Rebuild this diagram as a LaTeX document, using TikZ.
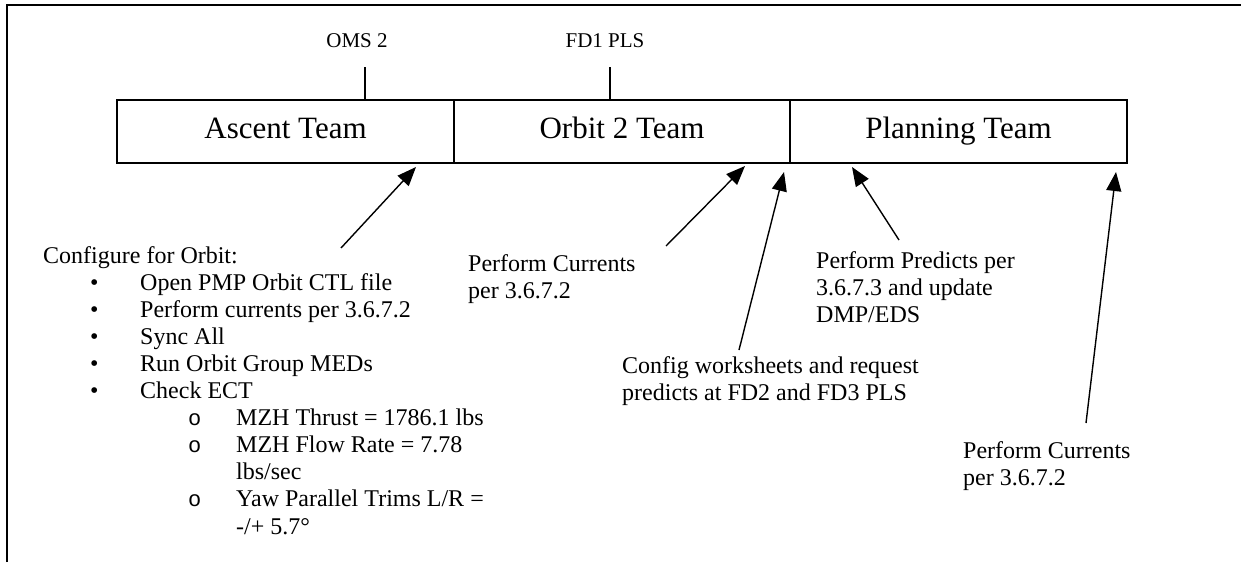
\documentclass[tikz,border=0pt]{standalone}
\usepackage{fontspec}
\setmainfont{Liberation Serif}
\newfontfamily\monofnt{Liberation Mono}
\usetikzlibrary{arrows.meta}

\tikzset{
  team/.style={draw, line width=1.5pt, minimum width=337pt, minimum height=63pt,
    inner sep=0pt, text height=21pt, text depth=7pt, font=\fontsize{31}{35}\selectfont},
  note/.style={anchor=north west, inner sep=0pt, align=left, font=\fontsize{24}{27.1}\selectfont},
  line/.style={anchor=base west, inner sep=0pt, font=\fontsize{24}{27.1}\selectfont},
  toplbl/.style={anchor=base, inner sep=0pt, font=\fontsize{21}{24}\selectfont},
  pointer/.style={line width=1.4pt, -{Triangle[length=19pt,width=15pt]}},
}

\begin{document}
\begin{tikzpicture}[x=1pt,y=-1pt]
      \useasboundingbox (0,0) rectangle (1241,562);
      %marco
      \draw[line width=1.5pt] (7,562) -- (7,5) -- (1241,5);
      %equipos
      \node[team] (asc) at (285.5,131.5) {Ascent Team};
      \node[team] (orb) at (622,131.5) {Orbit 2 Team};
      \node[team] (pln) at (958.5,131.5) {Planning Team};
      %marcas arriba
      \node[toplbl] (oms) at (357,47) {OMS 2};
      \node[toplbl] (pls) at (605,47) {FD1 PLS};
      \coordinate (omsT) at (365,67);
      \coordinate (plsT) at (610,67);
      \draw[line width=1.2pt] (omsT) -- (omsT |- asc.north);
      \draw[line width=1.2pt] (plsT) -- (plsT |- orb.north);

      %lista izquierda
      \node[line] (cfg) at (43,263) {Configure for Orbit:};
      \foreach \txt [count=\i] in {Open PMP Orbit CTL file, Perform currents per 3.6.7.2,
          Sync All, Run Orbit Group MEDs, Check ECT}{
        \node[line] (dot\i) at (90,263+27.1*\i) {•};
        \node[line] (it\i) at (140,263+27.1*\i) {\txt};
      }
      \foreach \txt [count=\i from 6] in {MZH Thrust = 1786.1 lbs, MZH Flow Rate = 7.78,
          lbs/sec, Yaw Parallel Trims L/R =, -/+ 5.7°}{
        \node[line] (it\i) at (236,263+27.1*\i) {\txt};
      }
      \foreach \i in {6,7,9}
        \node[line,font=\monofnt\fontsize{22}{24}\selectfont] (sub\i) at (188,263+27.1*\i) {o};

      %notas
      \node[note] (cur1) at (468,254.6) {Perform Currents\\per 3.6.7.2};
      \node[note] (cfgw) at (622,356.6) {Config worksheets and request\\predicts at FD2 and FD3 PLS};
      \node[note] (pred) at (816,251.6) {Perform Predicts per\\3.6.7.3 and update\\DMP/EDS};
      \node[note] (cur2) at (963,441.6) {Perform Currents\\per 3.6.7.2};

      %flechas
      \coordinate (t1) at (341,248);  \coordinate (h1) at (416,167);
      \coordinate (t2) at (666,246);  \coordinate (h2) at (745,166);
      \coordinate (t3) at (739,350);  \coordinate (h3) at (784,172);
      \coordinate (t4) at (899,240);  \coordinate (h4) at (852,167);
      \coordinate (t5) at (1086,423); \coordinate (h5) at (1116,172);
      \foreach \k in {1,...,5}
        \draw[pointer] (t\k) -- (h\k);
\end{tikzpicture}
\end{document}
